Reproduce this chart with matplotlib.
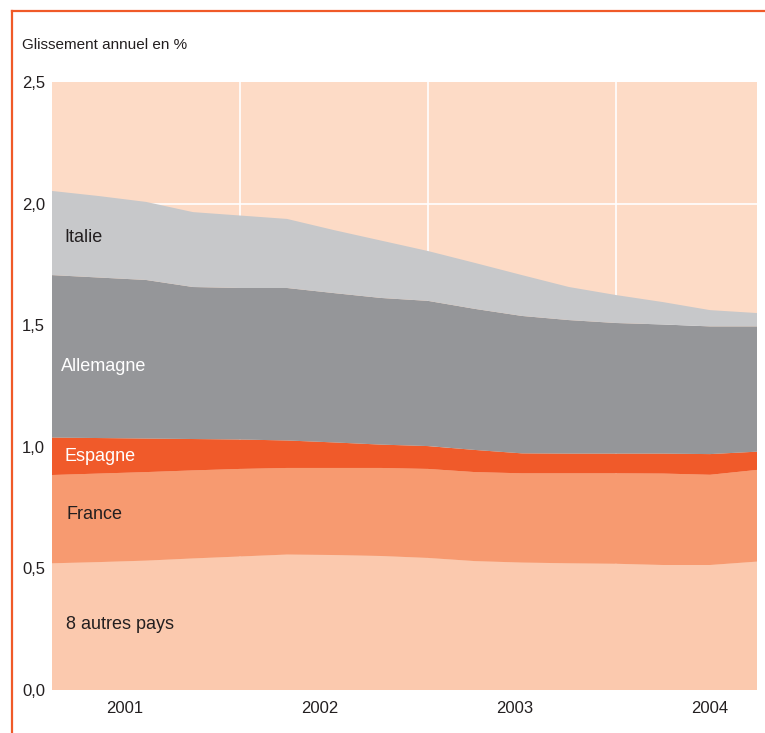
import matplotlib
matplotlib.use("Agg")
import matplotlib.pyplot as plt
from matplotlib import font_manager
import numpy as np

# Contributions to the annual inflation rate (percentage points), 16 observations
autres = [0.521, 0.526, 0.532, 0.541, 0.549, 0.557, 0.555, 0.551,
          0.543, 0.530, 0.524, 0.521, 0.519, 0.514, 0.514, 0.528]
france = [0.363, 0.364, 0.364, 0.362, 0.360, 0.356, 0.358, 0.362,
          0.366, 0.366, 0.367, 0.370, 0.372, 0.376, 0.371, 0.377]
espagne = [0.154, 0.146, 0.138, 0.129, 0.121, 0.113, 0.105, 0.096,
           0.094, 0.091, 0.082, 0.081, 0.081, 0.082, 0.085, 0.075]
allemagne = [0.668, 0.660, 0.652, 0.625, 0.623, 0.627, 0.614, 0.603,
             0.597, 0.580, 0.565, 0.549, 0.537, 0.531, 0.525, 0.515]
italie = [0.346, 0.335, 0.321, 0.308, 0.298, 0.284, 0.259, 0.236,
          0.205, 0.189, 0.168, 0.136, 0.115, 0.092, 0.067, 0.055]

series_names = ["8 autres pays", "France", "Espagne", "Allemagne", "Italie"]
year_labels = ["2001", "2002", "2003", "2004"]
y_ticks = [0.0, 0.5, 1.0, 1.5, 2.0, 2.5]

colors = ["#FBC9AE", "#F79A70", "#F05A2A", "#959699", "#C7C8CA"]
bg_color = "#FDDBC6"
accent = "#F05A28"
text_dark = "#231F20"

# pick a narrow sans if present
available = {f.name for f in font_manager.fontManager.ttflist}
family = "Liberation Sans Narrow" if "Liberation Sans Narrow" in available else "Liberation Sans"
plt.rcParams["font.family"] = [family, "DejaVu Sans"]

W, H = 765, 733
fig = plt.figure(figsize=(W / 100, H / 100), dpi=100)
ax = fig.add_axes([52 / W, 43 / H, 705 / W, 608 / H])

x = np.arange(len(autres))
ax.stackplot(x, autres, france, espagne, allemagne, italie,
             colors=colors, linewidth=0, zorder=2)

ax.set_xlim(x[0], x[-1])
ax.set_ylim(0, 2.5)
ax.set_facecolor(bg_color)

# white grid behind the stacked areas
ax.set_yticks(y_ticks)
ax.set_yticklabels([f"{v:.1f}".replace(".", ",") for v in y_ticks],
                   fontsize=12, color=text_dark)
for v in y_ticks[1:-1]:
    ax.axhline(v, color="white", lw=1.2, zorder=1)
for g in (4, 8, 12):
    ax.axvline(g, color="white", lw=1.2, zorder=1)

year_pos = [1.553, 5.702, 9.851, 14.0]
ax.set_xticks(year_pos)
ax.set_xticklabels(year_labels, fontsize=12, color=text_dark)
ax.tick_params(axis="both", length=0)
ax.tick_params(axis="x", pad=8)
ax.tick_params(axis="y", pad=5)
for s in ax.spines.values():
    s.set_visible(False)

# series labels inside the areas
label_pos = [(0.3, 0.27, text_dark), (0.3, 0.72, text_dark),
             (0.27, 0.96, "white"), (0.2, 1.33, "white"), (0.27, 1.86, text_dark)]
for name, (lx, ly, c) in zip(series_names, label_pos):
    ax.text(lx, ly, name, fontsize=13, color=c, va="center", ha="left", zorder=3)

fig.text(22 / W, 1 - 45 / H, "Glissement annuel en %", fontsize=11,
         color=text_dark, va="center", ha="left")

# orange frame lines
fig.add_artist(plt.Line2D([12 / W, 12 / W], [0, 1 - 11 / H], color=accent, lw=1.6))
fig.add_artist(plt.Line2D([12 / W, 1], [1 - 11 / H, 1 - 11 / H], color=accent, lw=1.6))

fig.savefig("out.png", dpi=100, facecolor="white")
